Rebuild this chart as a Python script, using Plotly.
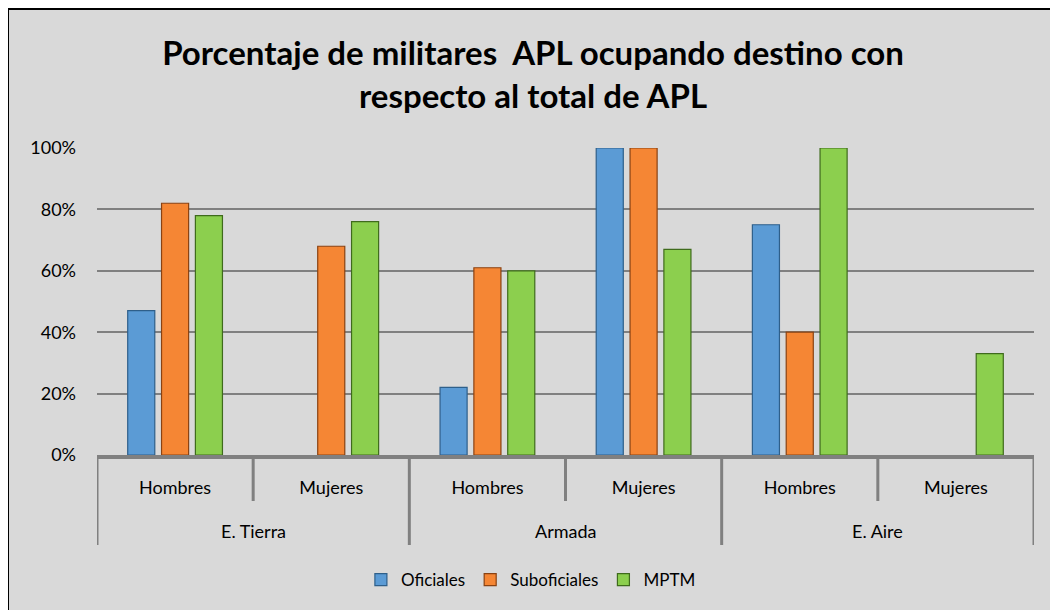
import plotly.graph_objects as go

# ---- data ----
ramas = ["E. Tierra", "Armada", "E. Aire"]
sexo = ["Hombres", "Mujeres", "Hombres", "Mujeres", "Hombres", "Mujeres"]
rama_de = [0, 0, 1, 1, 2, 2]  # index of ramas for each category
oficiales = [0.47, 0, 0.22, 1.00, 0.75, 0]
suboficiales = [0.82, 0.68, 0.61, 1.00, 0.40, 0]
mptm = [0.78, 0.76, 0.60, 0.67, 1.00, 0.33]
y_ticks = [0, 0.2, 0.4, 0.6, 0.8, 1.0]
y_labels = ["0%", "20%", "40%", "60%", "80%", "100%"]
title = "Porcentaje de militares  APL ocupando destino con<br>respecto al total de APL"

series = [
    ("Oficiales", oficiales, "#5B9BD5", "#2E5F8A"),
    ("Suboficiales", suboficiales, "#F58634", "#8A4212"),
    ("MPTM", mptm, "#8CCF4E", "#3F6B1C"),
]

# page has an 8px body margin; figure coordinates = page coordinates - 8
W, H = 1050, 602
L, R, T, B = 89, 24, 140, 155
pw = W - L - R
ph = H - T - B

FONT = "Lato"
GRAY = "#808080"

xpos = list(range(len(sexo)))

fig = go.Figure()
for name, vals, col, edge in series:
    fig.add_trace(go.Bar(
        x=xpos, y=vals, name=name,
        marker=dict(color=col,
                    line=dict(color=edge, width=[1.2 if v > 0 else 0 for v in vals])),
    ))

def py_paper(py):  # figure pixel y -> paper y
    return (H - B - py) / ph

shapes = [
    dict(type="rect", xref="paper", yref="paper", layer="below",
         x0=-L / pw, x1=(W - L + 5) / pw, y0=py_paper(H + 5), y1=py_paper(1),
         fillcolor="#D9D9D9", line=dict(color="black", width=2)),
]
n = len(sexo)
for i in range(n + 1):
    is_group = i == 0 or i == n or rama_de[i] != rama_de[i - 1]
    bottom = 537 if is_group else 493
    shapes.append(dict(type="line", xref="x", yref="paper", layer="above",
                       x0=i - 0.5, x1=i - 0.5, y0=0, y1=py_paper(bottom),
                       line=dict(color=GRAY, width=3)))

annotations = []
for g, rama in enumerate(ramas):
    idx = [i for i, r in enumerate(rama_de) if r == g]
    annotations.append(dict(text=rama, x=sum(idx) / len(idx), xref="x",
                            y=py_paper(523), yref="paper", yanchor="middle",
                            showarrow=False, font=dict(size=18, family=FONT)))

fig.update_layout(
    width=W, height=H,
    margin=dict(l=L, r=R, t=T, b=B),
    paper_bgcolor="white",
    plot_bgcolor="rgba(0,0,0,0)",
    barmode="group", bargap=0.35, bargroupgap=0.2,
    font=dict(family=FONT, color="black", size=17),
    title=dict(text=title, x=0.5, xanchor="center", xref="container",
               y=1 - 57 / H, yanchor="middle", yref="container",
               font=dict(family=FONT, size=33, color="black", weight="bold")),
    legend=dict(orientation="h", x=0.498, xref="container", xanchor="center",
                y=1 - 572 / H, yref="container", yanchor="middle",
                font=dict(size=17), bgcolor="rgba(0,0,0,0)",
                itemwidth=30, tracegroupgap=0),
    shapes=shapes,
    annotations=annotations,
    showlegend=True,
)
fig.update_yaxes(range=[0, 1.0], tickvals=y_ticks, ticktext=y_labels,
                 showgrid=True, gridcolor=GRAY, gridwidth=2,
                 zeroline=False, showline=False, ticklabelstandoff=20,
                 tickfont=dict(size=18))
fig.update_xaxes(range=[-0.5, n - 0.5], tickvals=xpos, ticktext=sexo,
                 showline=True, linecolor=GRAY, linewidth=4, showgrid=False,
                 zeroline=False, ticks="", tickfont=dict(size=18),
                 ticklabelstandoff=13)

fig.write_html("out.html")
